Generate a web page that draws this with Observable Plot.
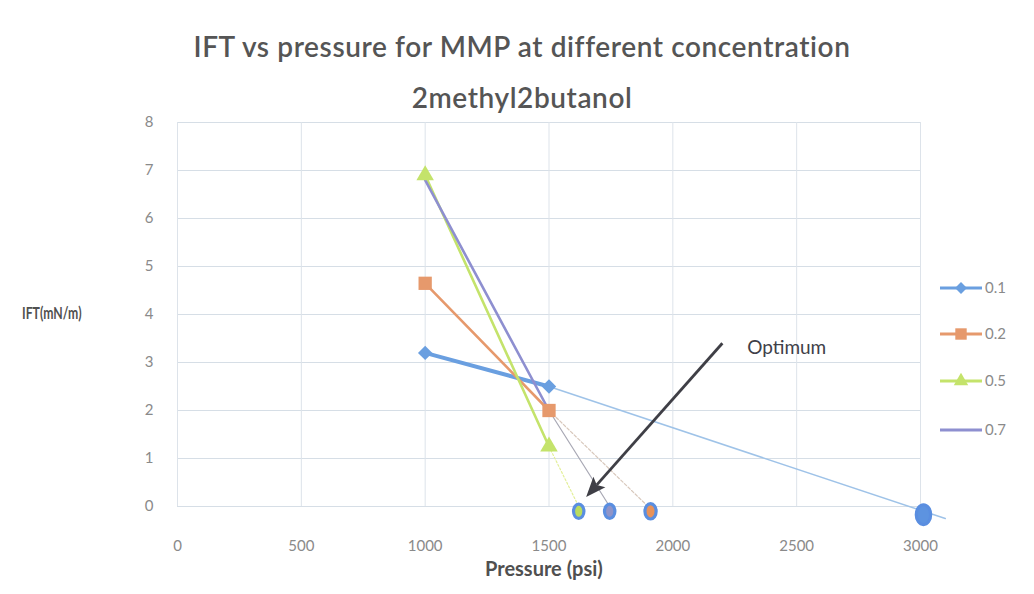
<!DOCTYPE html>
<html>
<head>
<meta charset="utf-8">
<script src="https://cdn.jsdelivr.net/npm/d3@7"></script>
<script src="https://cdn.jsdelivr.net/npm/@observablehq/plot@0.6"></script>
<style>
  body { margin: 0; background: #fff; }
  #wrap { position: relative; width: 1034px; height: 594px; overflow: hidden; font-family: Lato, "Open Sans", sans-serif; }
  #wrap > * { position: absolute; }
  .title { left: 0; width: 1044px; text-align: center; color: #555555; font-size: 28px; font-weight: 600; letter-spacing: 0.6px; white-space: nowrap; }
  .axlab { color: #505050; font-weight: bold; white-space: nowrap; }
</style>
</head>
<body>
<div id="wrap">
  <div class="title" style="top:29px">IFT vs pressure for MMP at different concentration</div>
  <div class="title" style="top:80px">2methyl2butanol</div>
  <div class="axlab" style="left:22px;top:302px;font-size:17px;transform:scaleX(0.72);transform-origin:left center">IFT(mN/m)</div>
  <div class="axlab" style="left:485px;top:556px;font-size:20px">Pressure (psi)</div>
</div>
<script>
// ---- data ----
const seriesNames = ["0.1", "0.2", "0.5", "0.7"];
const seriesColors = ["#6a9fe0", "#e6996c", "#c4e36b", "#8e8fd0"];
const seriesSymbols = ["diamond2", "square", "triangle", null];
const pressure = [1000, 1500];
const ift01 = [3.2, 2.5];
const ift02 = [4.65, 2.0];
const ift05 = [6.9, 1.25];
const ift07 = [6.8, 2.0];
// thin extrapolation lines, from last measured point to the zero-IFT (MMP) estimate
const trendEndP = [3100, 1910, 1620, 1745];
const trendEndIft = [-0.25, -0.05, 0, 0];
const trendColors = ["#9fc3e8", "#d8c8bc", "#e3ef9a", "#a8a8b4"];
// MMP points (circles on the x axis)
const mmpSeries = ["0.5", "0.7", "0.2", "0.1"];
const mmpP = [1620, 1745, 1910, 3012];
const mmpIft = [-0.1, -0.1, -0.1, -0.17];
const mmpFill = ["#b9dc5e", "#8f94c8", "#e8925a", "#5d93e0"];
const mmpSize = [6.5, 6.5, 7, 9];
// annotation
const arrowFrom = [2200, 3.4];
const arrowTo = [1650, 0.2];
const noteText = "Optimum";
const notePos = [2300, 3.3];
// ticks
const xTicks = [0, 500, 1000, 1500, 2000, 2500, 3000];
const yTicks = [0, 1, 2, 3, 4, 5, 6, 7, 8];

const iftBySeries = [ift01, ift02, ift05, ift07];
const rows = [];
seriesNames.forEach((s, i) => pressure.forEach((p, j) => rows.push({s, i, p, ift: iftBySeries[i][j]})));
const trend = [];
seriesNames.forEach((s, i) => {
  trend.push({s, i, p: pressure[1], ift: iftBySeries[i][1]});
  trend.push({s, i, p: trendEndP[i], ift: trendEndIft[i]});
});
const mmp = mmpSeries.map((s, k) => ({s, p: mmpP[k], ift: mmpIft[k], fill: mmpFill[k], r: mmpSize[k]}));

// ellipse symbol (taller than wide)
const ellipse = {
  draw(ctx, size) {
    const r = Math.sqrt(size / Math.PI), rx = r * 0.8, ry = r * 1.1, k = 0.5523;
    ctx.moveTo(0, -ry);
    ctx.bezierCurveTo(k * rx, -ry, rx, -k * ry, rx, 0);
    ctx.bezierCurveTo(rx, k * ry, k * rx, ry, 0, ry);
    ctx.bezierCurveTo(-k * rx, ry, -rx, k * ry, -rx, 0);
    ctx.bezierCurveTo(-rx, -k * ry, -k * rx, -ry, 0, -ry);
    ctx.closePath();
  }
};
// filled arrow head: triangle with tip at origin, pointing up
const headLen = 20, headHalf = 8;
const headSym = {
  draw(ctx) {
    ctx.moveTo(0, 0);
    ctx.lineTo(headHalf, headLen);
    ctx.lineTo(0, headLen * 0.8);
    ctx.lineTo(-headHalf, headLen);
    ctx.closePath();
  }
};

const layout = {
  width: 1034, height: 594,
  marginLeft: 177, marginRight: 114, marginTop: 122, marginBottom: 88,
  x: {domain: [0, 3000]},
  y: {domain: [0, 8]},
  r: {type: "identity"},
  color: {type: "identity"},
  style: {fontFamily: "Lato, 'Open Sans', sans-serif", background: "transparent", overflow: "visible"}
};

// first pass: get the scales to orient the arrow head in screen space
const probe = Plot.plot({...layout, marks: [Plot.frame()]});
const sx = probe.scale("x"), sy = probe.scale("y");
const dxp = sx.apply(arrowTo[0]) - sx.apply(arrowFrom[0]);
const dyp = sy.apply(arrowTo[1]) - sy.apply(arrowFrom[1]);
const headAngle = Math.atan2(dxp, -dyp) * 180 / Math.PI;
const len = Math.hypot(dxp, dyp);
const shaftEnd = [
  sx.invert(sx.apply(arrowTo[0]) - dxp / len * headLen * 0.8),
  sy.invert(sy.apply(arrowTo[1]) - dyp / len * headLen * 0.8)
];

const marks = [
  Plot.gridY(yTicks, {stroke: "#d6dee6", strokeOpacity: 1}),
  Plot.gridX(xTicks, {stroke: "#dde3ea", strokeOpacity: 1}),
  Plot.axisX(xTicks, {tickSize: 0, tickPadding: 34, label: null, fontSize: 15, fill: "#8a8a8a", tickFormat: d3.format("d")}),
  Plot.axisY(yTicks, {tickSize: 0, tickPadding: 24, label: null, fontSize: 15, fill: "#8a8a8a"}),
  // thin extrapolation lines
  ...seriesNames.map((s, i) => Plot.line(trend.filter(d => d.i === i), {
    x: "p", y: "ift", stroke: trendColors[i], strokeWidth: i === 0 ? 1.5 : 1.2,
    strokeDasharray: i === 2 ? "2,2" : i === 1 ? "3,2" : null
  })),
  // measured series
  ...seriesNames.map((s, i) => Plot.line(rows.filter(d => d.i === i), {
    x: "p", y: "ift", stroke: seriesColors[i], strokeWidth: i === 0 ? 4 : 2.6
  })),
  ...seriesNames.map((s, i) => seriesSymbols[i] ? Plot.dot(rows.filter(d => d.i === i), {
    x: "p", y: "ift", symbol: seriesSymbols[i], fill: seriesColors[i], r: i === 1 ? 7.5 : 6.5, stroke: "none"
  }) : null).filter(Boolean),
  // MMP circles
  Plot.dot(mmp, {x: "p", y: "ift", r: "r", symbol: ellipse, fill: "fill", stroke: "#5a8ee0", strokeWidth: 3.2}),
  // annotation arrow
  Plot.link([{x1: arrowFrom[0], y1: arrowFrom[1], x2: shaftEnd[0], y2: shaftEnd[1]}], {
    x1: "x1", y1: "y1", x2: "x2", y2: "y2", stroke: "#3f3f46", strokeWidth: 2.8
  }),
  Plot.dot([{x: arrowTo[0], y: arrowTo[1]}], {x: "x", y: "y", symbol: headSym, rotate: headAngle, fill: "#3f3f46", stroke: "none", r: 5}),
  Plot.text([noteText], {x: notePos[0], y: notePos[1], text: d => d, textAnchor: "start", fontSize: 19, fill: "#404048"})
];

const chart = Plot.plot({...layout, marks});
chart.style.left = "0px";
chart.style.top = "0px";
const wrap = document.getElementById("wrap");
wrap.appendChild(chart);

// legend
const lg = d3.create("svg").attr("width", 100).attr("height", 200).style("left", "930px").style("top", "260px");
seriesNames.forEach((s, i) => {
  const y = [28, 74, 121, 170][i];
  const g = lg.append("g").attr("transform", `translate(0,${y})`);
  g.append("line").attr("x1", 10).attr("x2", 52).attr("stroke", seriesColors[i]).attr("stroke-width", 3);
  if (seriesSymbols[i]) {
    const sym = {diamond2: d3.symbolDiamond2, square: d3.symbolSquare, triangle: d3.symbolTriangle}[seriesSymbols[i]];
    g.append("path").attr("transform", "translate(31,0)").attr("d", d3.symbol(sym, i === 1 ? 130 : 90)()).attr("fill", seriesColors[i]);
  }
  g.append("text").attr("x", 55).attr("dy", "0.35em").attr("font-size", 15).attr("fill", "#8a8a8a")
    .attr("font-family", "Lato, 'Open Sans', sans-serif").text(s);
});
wrap.appendChild(lg.node());
</script>
</body>
</html>
